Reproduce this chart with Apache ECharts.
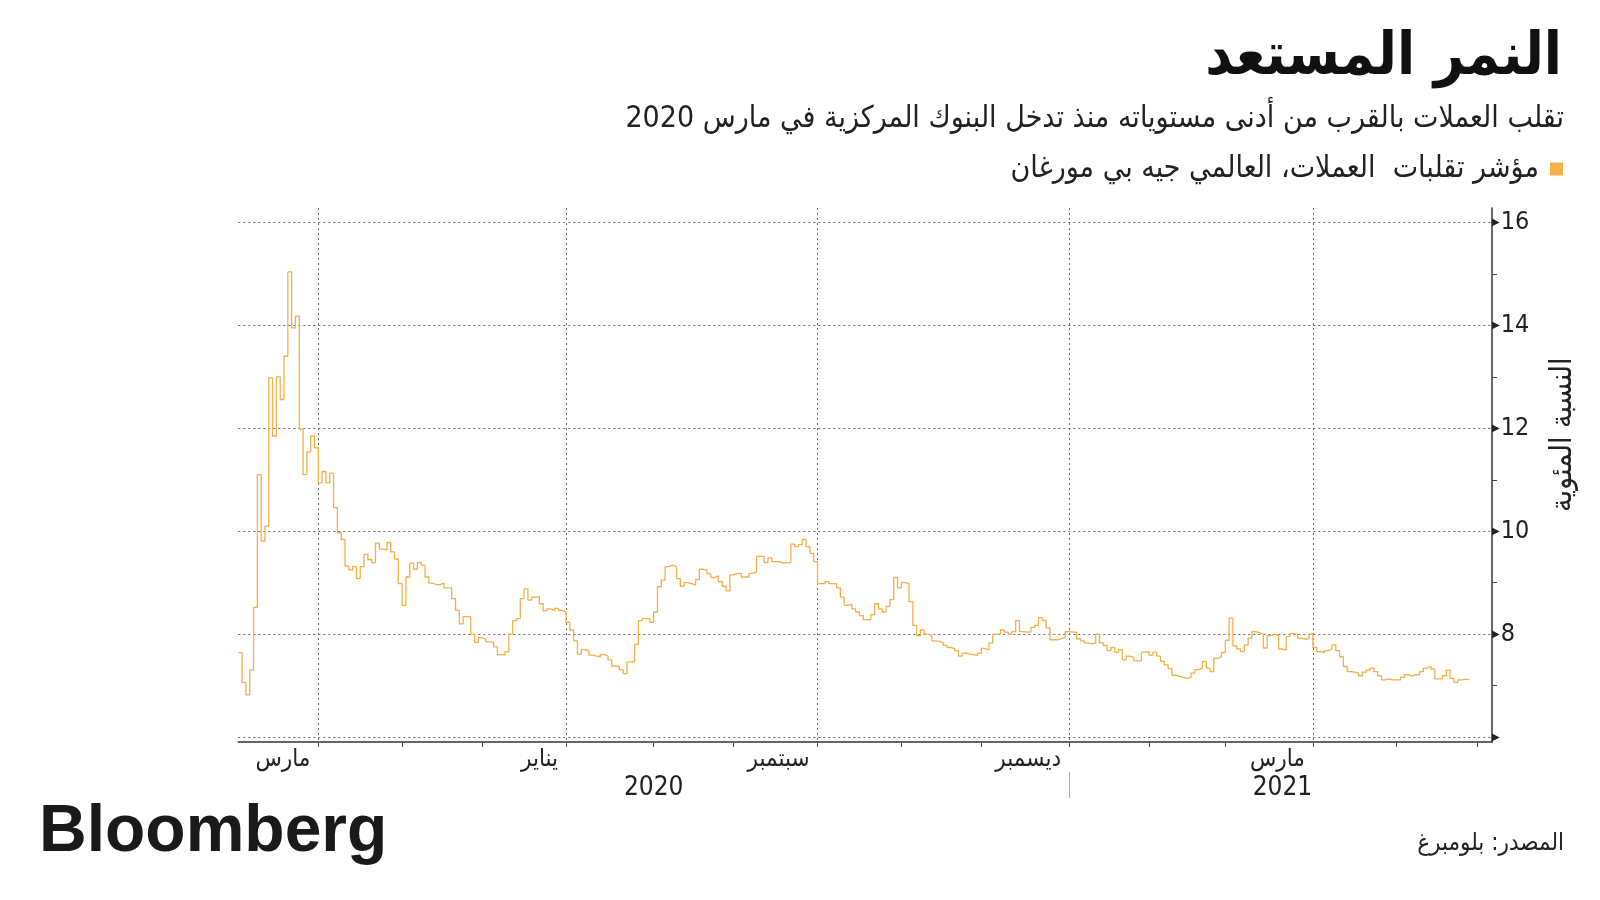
<!DOCTYPE html>
<html>
<head>
<meta charset="utf-8">
<script src="https://cdn.jsdelivr.net/npm/echarts@6/dist/echarts.min.js"></script>
<style>
html,body{margin:0;padding:0;background:#fff;}
#chart{width:1600px;height:900px;}
</style>
</head>
<body>
<div id="chart"></div>
<script>
// ---------- data ----------
const firstDay = '2020-03-03';      // first weekday on the axis
const axisDays = 330;               // weekdays shown on the axis
const titleText = 'النمر المستعد';
const subtitleText = 'تقلب العملات بالقرب من أدنى مستوياته منذ تدخل البنوك المركزية في مارس 2020';
const seriesName = 'مؤشر تقلبات  العملات، العالمي جيه بي مورغان';
const yAxisName = 'النسبة المئوية';
const sourceText = 'المصدر: بلومبرغ';
const yTicks = [6, 8, 10, 12, 14, 16];
const quarterDates = ['2020-04-01', '2020-07-01', '2020-10-01', '2021-01-01', '2021-04-01'];
const quarterLabels = ['مارس', 'يناير', 'سبتمبر', 'ديسمبر', 'مارس'];
const yearLabels = ['2020', '2021'];
const yearBreak = '2021-01-01';

// JPMorgan global FX volatility index, one value per weekday from 2020-03-03
const fxVol = [
  7.64, 7.06, 6.82, 7.3, 8.52, 11.1, 9.81, 10.1, 12.98, 11.85,
  13.0, 12.56, 13.4, 15.04, 13.95, 14.18, 11.98, 11.1, 11.54, 11.85,
  11.62, 10.94, 11.16, 10.94, 11.13, 10.46, 9.97, 9.84, 9.32, 9.25,
  9.31, 9.08, 9.31, 9.55, 9.45, 9.39, 9.77, 9.65, 9.64, 9.78,
  9.6, 9.46, 8.98, 8.56, 9.11, 9.38, 9.26, 9.39, 9.34, 9.11,
  8.99, 8.96, 8.96, 8.99, 8.9, 8.9, 8.69, 8.46, 8.2, 8.34,
  8.34, 8.0, 7.84, 7.93, 7.9, 7.85, 7.84, 7.75, 7.6, 7.59,
  7.66, 8.0, 8.26, 8.3, 8.69, 8.88, 8.66, 8.72, 8.73, 8.59,
  8.45, 8.49, 8.46, 8.5, 8.46, 8.43, 8.23, 8.08, 7.87, 7.61,
  7.7, 7.68, 7.59, 7.57, 7.56, 7.6, 7.58, 7.5, 7.38, 7.37,
  7.31, 7.23, 7.46, 7.46, 7.8, 8.26, 8.3, 8.3, 8.23, 8.43,
  8.92, 9.05, 9.31, 9.34, 9.31, 9.08, 8.93, 9.0, 8.98, 8.95,
  9.06, 9.26, 9.25, 9.17, 9.1, 9.13, 9.02, 8.93, 8.84, 9.15,
  9.18, 9.18, 9.11, 9.11, 9.18, 9.21, 9.51, 9.51, 9.39, 9.48,
  9.41, 9.41, 9.38, 9.39, 9.39, 9.75, 9.7, 9.74, 9.84, 9.7,
  9.57, 9.41, 8.98, 8.98, 9.02, 8.98, 8.98, 8.9, 8.72, 8.56,
  8.58, 8.49, 8.43, 8.36, 8.28, 8.28, 8.38, 8.59, 8.49, 8.43,
  8.54, 8.67, 9.1, 8.9, 9.0, 8.98, 8.63, 8.17, 7.97, 8.08,
  8.0, 7.97, 7.87, 7.86, 7.83, 7.78, 7.74, 7.72, 7.68, 7.57,
  7.63, 7.61, 7.6, 7.58, 7.63, 7.72, 7.7, 7.83, 8.0, 8.0,
  8.08, 8.04, 8.0, 8.05, 8.26, 8.05, 8.04, 8.04, 8.13, 8.17,
  8.32, 8.26, 8.12, 7.89, 7.89, 7.91, 7.94, 8.05, 8.04, 8.04,
  7.91, 7.87, 7.83, 7.81, 7.83, 8.0, 7.83, 7.78, 7.68, 7.74,
  7.65, 7.7, 7.5, 7.57, 7.55, 7.48, 7.48, 7.65, 7.66, 7.59,
  7.65, 7.57, 7.47, 7.4, 7.33, 7.2, 7.18, 7.16, 7.14, 7.16,
  7.24, 7.31, 7.34, 7.47, 7.34, 7.27, 7.53, 7.56, 7.64, 7.88,
  8.31, 7.77, 7.71, 7.66, 7.79, 7.92, 8.05, 8.03, 8.0, 7.73,
  7.97, 8.0, 7.97, 7.71, 7.69, 7.95, 8.01, 8.0, 7.92, 7.9,
  7.91, 8.0, 7.74, 7.66, 7.64, 7.68, 7.71, 7.79, 7.68, 7.56,
  7.37, 7.27, 7.26, 7.24, 7.19, 7.26, 7.3, 7.34, 7.27, 7.19,
  7.11, 7.13, 7.11, 7.11, 7.11, 7.16, 7.21, 7.19, 7.21, 7.21,
  7.27, 7.34, 7.37, 7.32, 7.13, 7.13, 7.19, 7.3, 7.14, 7.06,
  7.11, 7.12, 7.12, 7.12
];

// ---------- weekday category axis ----------
function pad(n){ return (n < 10 ? '0' : '') + n; }
const days = [];
{
  const d = new Date(firstDay + 'T00:00:00Z');
  while (days.length < axisDays) {
    const wd = d.getUTCDay();
    if (wd !== 0 && wd !== 6) {
      days.push(d.getUTCFullYear() + '-' + pad(d.getUTCMonth() + 1) + '-' + pad(d.getUTCDate()));
    }
    d.setUTCDate(d.getUTCDate() + 1);
  }
}
const isMonthStart = (i) => i > 0 && days[i].slice(0, 7) !== days[i - 1].slice(0, 7);
const breakIdx = days.indexOf(yearBreak);
const yearMid = [Math.round(breakIdx / 2), Math.round((breakIdx + days.length - 1) / 2)];

const FONT = "'DejaVu Sans Condensed', 'DejaVu Sans', sans-serif";
const DOT = { color: '#6b6b6b', width: 1, type: [2, 3] };
const ORANGE = '#F5B04A';

const chart = echarts.init(document.getElementById('chart'), null, { renderer: 'canvas' });

const L = 238.3, R = 1600 - 1492;

chart.setOption({
  backgroundColor: '#ffffff',
  animation: false,
  textStyle: { fontFamily: FONT },
  title: [
    { text: titleText, right: 38, top: 29, padding: 0,
      textStyle: { fontFamily: FONT, fontSize: 59, fontWeight: 'bold', color: '#111' } },
    { text: subtitleText, right: 36, top: 104, padding: 0,
      textStyle: { fontFamily: FONT, fontSize: 30, fontWeight: 'normal', color: '#222' } },
    { text: 'Bloomberg', left: 39, top: 800, padding: 0,
      textStyle: { fontFamily: "'Liberation Sans', Arial, sans-serif", fontSize: 66, fontWeight: 'bold', color: '#1a1a1a' } },
    { text: sourceText, right: 36, top: 832, padding: 0,
      textStyle: { fontFamily: FONT, fontSize: 24, fontWeight: 'normal', color: '#222' } }
  ],
  legend: {
    data: [{ name: seriesName, icon: 'rect' }],
    right: 37, top: 154, align: 'right', padding: 0,
    itemWidth: 13, itemHeight: 13,
    textStyle: { fontFamily: FONT, fontSize: 30, color: '#222', padding: [0, 6, 0, 0] }
  },
  grid: [
    { left: L, right: R, top: 222.5, bottom: 900 - 737 },
    { left: L, right: R, top: 208, bottom: 900 - 742 }
  ],
  xAxis: [
    { gridIndex: 0, type: 'category', data: days, boundaryGap: false, show: false },
    { gridIndex: 1, type: 'category', position: 'bottom', data: days, boundaryGap: false,
      axisLine: { show: true, lineStyle: { color: '#333', width: 1.5 } },
      axisTick: { show: true, length: 5, interval: (i) => isMonthStart(i), lineStyle: { color: '#555' } },
      axisLabel: { show: true, interval: (i, v) => quarterDates.indexOf(v) >= 0,
        formatter: (v) => quarterLabels[quarterDates.indexOf(v)] || '',
        align: 'right', padding: [0, 8, 0, 0], margin: 6,
        fontFamily: FONT, fontSize: 24, color: '#222' },
      splitLine: { show: true, interval: (i, v) => quarterDates.indexOf(v) >= 0, lineStyle: DOT } },
    { gridIndex: 1, type: 'category', position: 'bottom', data: days, boundaryGap: false, offset: 30,
      axisLine: { show: false },
      axisTick: { show: true, length: 26, interval: (i) => i === breakIdx, lineStyle: { color: '#aaa' } },
      axisLabel: { show: true, interval: (i) => yearMid.indexOf(i) >= 0,
        formatter: (v, i) => yearLabels[yearMid.indexOf(i)] || '',
        margin: 3, fontFamily: FONT, fontSize: 26, color: '#222' },
      splitLine: { show: false } }
  ],
  yAxis: [
    { gridIndex: 0, type: 'value', position: 'right', min: yTicks[0], max: yTicks[yTicks.length - 1], interval: 2,
      axisLine: { show: false },
      axisTick: { show: false },
      minorTick: { show: true, splitNumber: 2, length: 5, lineStyle: { color: '#444' } },
      splitLine: { show: true, lineStyle: DOT },
      axisLabel: { margin: 0, formatter: (v) => '{t|▶}' + (v === yTicks[0] ? '' : '{n|' + v + '}'),
        rich: { t: { fontSize: 10, color: '#222', fontFamily: 'DejaVu Sans' },
                n: { fontSize: 25, color: '#222', fontFamily: FONT, padding: [0, 0, 0, 1] } } },
      name: yAxisName, nameLocation: 'middle', nameRotate: 90, nameGap: 56,
      nameTextStyle: { fontFamily: FONT, fontSize: 30, color: '#222', padding: [0, 0, 0, 90] } },
    { gridIndex: 1, type: 'value', position: 'right', min: 0, max: 1,
      axisLine: { show: true, lineStyle: { color: '#333', width: 1.5 } },
      axisTick: { show: false }, axisLabel: { show: false }, splitLine: { show: false } }
  ],
  series: [
    { name: seriesName, type: 'line', xAxisIndex: 0, yAxisIndex: 0, step: 'end',
      data: fxVol, showSymbol: false, symbol: 'none',
      itemStyle: { color: ORANGE },
      lineStyle: { color: ORANGE, width: 1.3 } }
  ]
});
</script>
</body>
</html>
